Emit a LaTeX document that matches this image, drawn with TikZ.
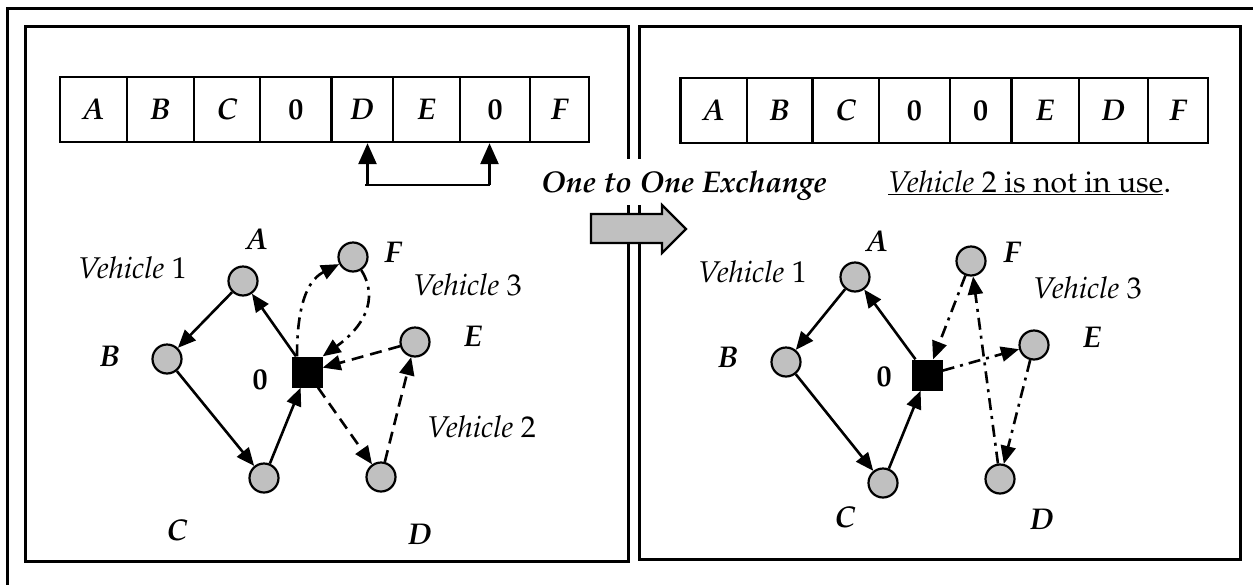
\documentclass[tikz,border=0pt]{standalone}
\usepackage[T1]{fontenc}
\usepackage{mathpazo}
\usetikzlibrary{arrows.meta}
\definecolor{ngray}{RGB}{192,192,192}
\newcommand{\fsz}{\fontsize{30}{36}\selectfont}
\begin{document}
\begin{tikzpicture}[x=1pt,y=-1pt,
  every node/.style={font=\fsz},
  city/.style={circle,draw,fill=ngray,line width=2.2pt,minimum size=29pt,inner sep=0pt},
  depot/.style={rectangle,fill=black,minimum size=31pt,inner sep=0pt},
  cell/.style={draw,line width=2.4pt,minimum height=65pt,inner sep=0pt,font=\fsz\bfseries\itshape},
  zcell/.style={cell,font=\fsz\bfseries},
  lbl/.style={font=\fsz\bfseries\itshape,inner sep=0pt},
  zlbl/.style={font=\fsz\bfseries,inner sep=0pt},
  veh/.style={anchor=west,inner sep=0pt},
  tip/.style={-{Triangle[length=18pt,width=15pt]}},
  bigtip/.style={-{Triangle[length=21pt,width=18pt]}},
  route/.style={line width=2.6pt,tip},
  dashedroute/.style={route,dash pattern=on 12pt off 7pt},
  dashdot/.style={route,dash pattern=on 12pt off 6pt on 3pt off 6pt},
  panel/.style={draw,line width=3pt}
]
\useasboundingbox (0,0) rectangle (1253,584);
\clip (0,0) rectangle (1253,584);
\fill[white] (0,0) rectangle (1253,584);
% outer frame (runs off the right and bottom edges)
\draw[line width=2.5pt] (7.5,700) -- (7.5,8.5) -- (1300,8.5);
% panels
\draw[panel] (25.5,26) rectangle (628,561);
\draw[panel] (639,26) rectangle (1240.5,559);

% left array
\node[cell,minimum width=67pt] (L1) at (93.5,109.5) {A};
\node[cell,minimum width=67pt] (L2) at (160.5,109.5) {B};
\node[cell,minimum width=66pt] (L3) at (227,109.5) {C};
\node[zcell,minimum width=71.5pt] (L4) at (295.75,109.5) {0};
\node[cell,minimum width=61.5pt] (L5) at (362.25,109.5) {D};
\node[cell,minimum width=67pt] (L6) at (426.5,109.5) {E};
\node[zcell,minimum width=70pt] (L7) at (495,109.5) {0};
\node[cell,minimum width=59pt] (L8) at (559.5,109.5) {F};

% right array
\node[cell,minimum width=66.2pt] (R1) at (713.6,110.5) {A};
\node[cell,minimum width=65.8pt] (R2) at (779.6,110.5) {B};
\node[cell,minimum width=66.5pt] (R3) at (845.75,110.5) {C};
\node[zcell,minimum width=70.7pt] (R4) at (914.35,110.5) {0};
\node[zcell,minimum width=61.7pt] (R5) at (980.55,110.5) {0};
\node[cell,minimum width=67.4pt] (R6) at (1045.1,110.5) {E};
\node[cell,minimum width=69.4pt] (R7) at (1113.5,110.5) {D};
\node[cell,minimum width=59.7pt] (R8) at (1178,110.5) {F};

% exchange marker under left array
\coordinate (u1) at (367.5,185);
\coordinate (u2) at (489.5,185);
\draw[line width=2.6pt,bigtip] (u1) -- (u1 |- L5.south);
\draw[line width=2.6pt,bigtip] (u2) -- (u2 |- L7.south);
\draw[line width=2.6pt] ([xshift=-2.5pt]u1) -- (u2);

% caption texts
\node[fill=white,inner xsep=4pt,inner ysep=0pt,text height=33pt,text depth=13pt,anchor=base west,
      font=\fsz\bfseries\itshape] (ex) at (537,192) {One to One Exchange};
\node[anchor=base west,inner sep=0pt] (nu) at (888,192) {\textit{Vehicle} 2 is not in use};
\node[anchor=base west,inner sep=0pt] (dot) at (nu.base east) {.};
\draw[line width=1.6pt] ([yshift=-2.5pt]nu.base west) -- ([yshift=-2.5pt]nu.base east);

% block arrow
\draw[line width=2.2pt,fill=ngray,line join=miter] (591,214) -- (662,214) -- (662,205) -- (686,229) -- (662,253) -- (662,243) -- (591,243) -- cycle;

% ---------- left graph ----------
\node[city] (lA) at (243,281) {};
\node[city] (lF) at (353,257) {};
\node[city] (lB) at (167,359) {};
\node[city] (lE) at (415,342) {};
\node[city] (lC) at (264,478) {};
\node[city] (lD) at (381,477) {};
\node[depot] (l0) at (307,372) {};

\node[lbl] (tlA) at (257,240) {A};
\node[lbl] (tlF) at (393,253) {F};
\node[lbl] (tlB) at (110,357) {B};
\node[zlbl] (tl0) at (260,380) {0};
\node[lbl] (tlE) at (473,337) {E};
\node[lbl] (tlC) at (177,530) {C};
\node[lbl] (tlD) at (420,535) {D};

\node[veh] (lv1) at (78,268) {\textit{Vehicle} 1};
\node[veh] (lv3) at (413,285) {\textit{Vehicle} 3};
\node[veh] (lv2) at (427,427) {\textit{Vehicle} 2};

\draw[route] (l0) -- (lA);
\draw[route] (lA) -- (lB);
\draw[route] (lB) -- (lC);
\draw[route] (lC) -- (l0);
\draw[dashdot] ([xshift=-10pt]l0.north) .. controls (297,295) and (312,278) .. (lF);
\draw[dashdot] (lF) .. controls (380,300) and (362,328) .. (l0.north east);
\draw[dashedroute] (lE) -- (l0);
\draw[dashedroute] (l0) -- (lD);
\draw[dashedroute] (lD) -- (lE);

% ---------- right graph ----------
\node[city] (rA) at (855,277) {};
\node[city] (rF) at (971,261) {};
\node[city] (rB) at (786,362) {};
\node[city] (rE) at (1034,345) {};
\node[city] (rC) at (883,483) {};
\node[city] (rD) at (1000,479) {};
\node[depot] (r0) at (927,375) {};

\node[lbl] (trA) at (877,242) {A};
\node[lbl] (trF) at (1012,253) {F};
\node[lbl] (trB) at (728,358) {B};
\node[zlbl] (tr0) at (884,377) {0};
\node[lbl] (trE) at (1092,338) {E};
\node[lbl] (trC) at (845,517) {C};
\node[lbl] (trD) at (1042,520) {D};

\node[veh] (rv1) at (698,272) {\textit{Vehicle} 1};
\node[veh] (rv3) at (1033,288) {\textit{Vehicle} 3};

\draw[route] (r0) -- (rA);
\draw[route] (rA) -- (rB);
\draw[route] (rB) -- (rC);
\draw[route] (rC) -- (r0);
\draw[dashdot] (rF) -- (r0);
\draw[dashdot] (r0) -- (rE);
\draw[dashdot] (rE) -- (rD);
\draw[dashdot] (rD) -- (rF);
\end{tikzpicture}
\end{document}
